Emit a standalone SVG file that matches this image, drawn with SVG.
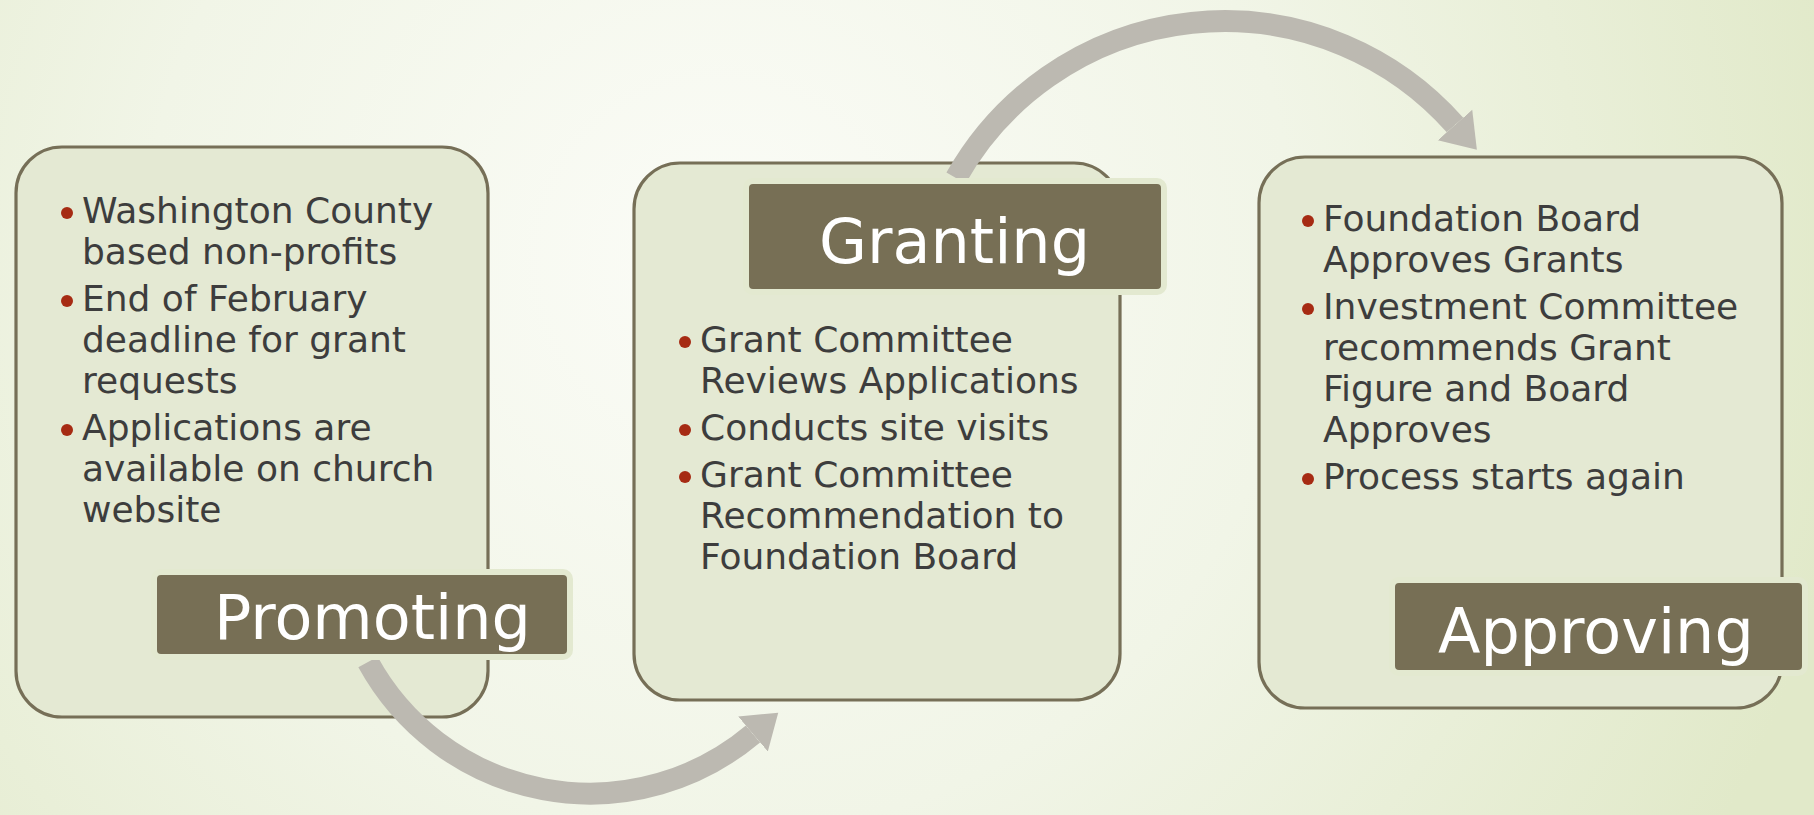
<svg xmlns="http://www.w3.org/2000/svg" width="1814" height="815" viewBox="0 0 1814 815">
<defs>
<radialGradient id="bg" gradientUnits="userSpaceOnUse" cx="720" cy="260" r="1150">
<stop offset="0" stop-color="#fbfcf7"/>
<stop offset="0.5" stop-color="#f1f5e7"/>
<stop offset="1" stop-color="#e1e9c9"/>
</radialGradient>
<marker id="head" markerUnits="userSpaceOnUse" markerWidth="40" markerHeight="52" refX="0" refY="26" orient="auto">
<path d="M0,3 L33,26 L0,49 Z" fill="#bcb9b1"/>
</marker>
<style>
.box{fill:#e4e9d3;stroke:#766f57;stroke-width:3.2}
.lab{fill:#776f55;stroke:#e3e9d0;stroke-width:6}
.lt{font-family:"DejaVu Sans",sans-serif;font-size:62px;fill:#ffffff}
.bt{font-family:"DejaVu Sans",sans-serif;font-size:36px;fill:#3d3d3d}
.dot{fill:#a62b13}
.arr{fill:none;stroke:#bcb9b1;stroke-width:22;stroke-linecap:butt}
</style>
</defs>
<rect width="1814" height="815" fill="url(#bg)"/>

<g id="box-promoting">
<rect class="box" x="16" y="147" width="472" height="570" rx="46"/>
<circle class="dot" cx="67" cy="213" r="6"/>
<circle class="dot" cx="67" cy="301" r="6"/>
<circle class="dot" cx="67" cy="430" r="6"/>
<text class="bt"><tspan x="82" y="223">Washington County</tspan><tspan x="82" y="264">based non-profits</tspan><tspan x="82" y="311">End of February</tspan><tspan x="82" y="352">deadline for grant</tspan><tspan x="82" y="393">requests</tspan><tspan x="82" y="440">Applications are</tspan><tspan x="82" y="481">available on church</tspan><tspan x="82" y="522">website</tspan></text>
</g>

<g id="box-granting">
<rect class="box" x="634" y="163" width="486" height="537" rx="46"/>
<circle class="dot" cx="685" cy="342" r="6"/>
<circle class="dot" cx="685" cy="430" r="6"/>
<circle class="dot" cx="685" cy="477" r="6"/>
<text class="bt"><tspan x="700" y="352">Grant Committee</tspan><tspan x="700" y="393">Reviews Applications</tspan><tspan x="700" y="440">Conducts site visits</tspan><tspan x="700" y="487">Grant Committee</tspan><tspan x="700" y="528">Recommendation to</tspan><tspan x="700" y="569">Foundation Board</tspan></text>
</g>

<g id="box-approving">
<rect class="box" x="1259" y="157" width="523" height="551" rx="46"/>
<circle class="dot" cx="1308" cy="221" r="6"/>
<circle class="dot" cx="1308" cy="309" r="6"/>
<circle class="dot" cx="1308" cy="479" r="6"/>
<text class="bt"><tspan x="1323" y="231">Foundation Board</tspan><tspan x="1323" y="272">Approves Grants</tspan><tspan x="1323" y="319">Investment Committee</tspan><tspan x="1323" y="360">recommends Grant</tspan><tspan x="1323" y="401">Figure and Board</tspan><tspan x="1323" y="442">Approves</tspan><tspan x="1323" y="489">Process starts again</tspan></text>
</g>

<g id="connectors">
<path class="arr" d="M368,662 A253,253 0 0 0 753,734" marker-end="url(#head)"/>
<path class="arr" d="M956,178 A308,308 0 0 1 1455,125" marker-end="url(#head)"/>
</g>

<g id="label-promoting">
<rect class="lab" x="154" y="572" width="416" height="85" rx="7"/>
<text class="lt" x="214" y="639">Promoting</text>
</g>
<g id="label-granting">
<rect class="lab" x="746" y="181" width="418" height="111" rx="7"/>
<text class="lt" x="819" y="263">Granting</text>
</g>
<g id="label-approving">
<rect class="lab" x="1392" y="580" width="413" height="93" rx="7"/>
<text class="lt" x="1438" y="653">Approving</text>
</g>
</svg>
